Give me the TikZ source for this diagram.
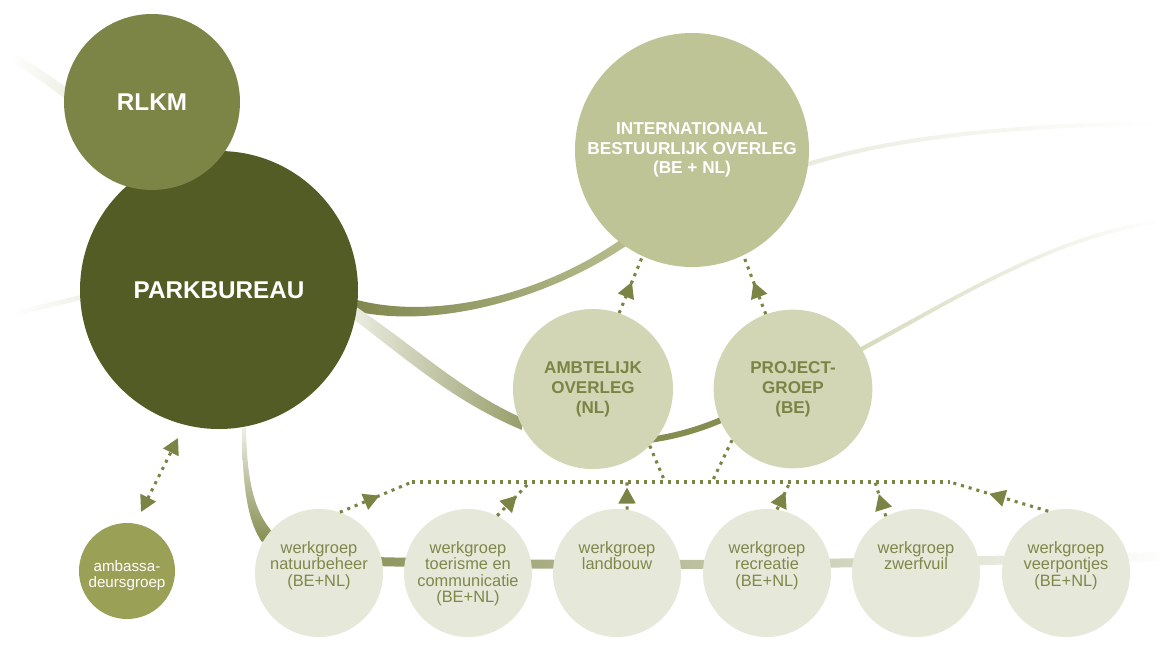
\documentclass[tikz,border=0pt]{standalone}
\usepackage{fontspec}
\setmainfont{Liberation Sans}
\usetikzlibrary{arrows.meta,decorations.markings}
\definecolor{cRl}{HTML}{7C8446}
\definecolor{cPark}{HTML}{545C25}
\definecolor{cInt}{HTML}{BFC497}
\definecolor{cAmb}{HTML}{D2D6B4}
\definecolor{cWg}{HTML}{E6E8D9}
\definecolor{cAms}{HTML}{9BA057}
\definecolor{cText}{HTML}{7B8445}
\definecolor{cWgText}{HTML}{7F8749}
\definecolor{cRib}{HTML}{868D51}
\begin{document}
\begin{tikzpicture}[x=0.75pt,y=-0.75pt,
  circ/.style={circle,inner sep=0pt,align=center},
  bigcap/.style={font=\bfseries\fontsize{18.2}{20}\selectfont,text=white},
  midcap/.style={font=\bfseries\fontsize{12.8}{15}\selectfont,text=cText},
  intcap/.style={font=\bfseries\fontsize{12.9}{14.6}\selectfont,text=white},
  wg/.style={circ,fill=cWg,minimum size=96pt},
  wgtext/.style={anchor=north,inner sep=0pt,align=center,text=cWgText,font=\fontsize{12.3}{12.4}\selectfont},
  dots/.style={draw=cText,line width=2.3pt,dash pattern=on 2.3pt off 3.7pt},
  midarrow/.style={postaction={decorate},decoration={markings,mark=at position #1 with {\arrow[cText,fill=cText,solid]{Triangle[length=12pt,width=12.5pt]}}}},
]
\useasboundingbox (0,0) rectangle (1160,650);
\fill[white] (0,0) rectangle (1160,650);

% background ribbons
\path[left color=white,right color=cWg!70!white]
  (10,52) .. controls (30,62) and (50,76) .. (70,90) -- (70,102) .. controls (50,88) and (30,72) .. (10,62) -- cycle;
\path[left color=white,right color=cWg!60!white]
  (10,312) .. controls (35,306) and (60,300) .. (85,294) -- (85,299) .. controls (60,305) and (35,311) .. (10,317) -- cycle;
\path[left color=cRib!95!black,right color=cInt!85!cRib]
  (350,298) .. controls (430,322) and (540,296) .. (620,240) -- (626,246) .. controls (542,302) and (430,330) .. (350,310) -- cycle;
\path[left color=cWg!80!white,right color=cRib!85!white]
  (352,304) .. controls (420,350) and (460,390) .. (522,418) -- (522,430) .. controls (455,402) and (410,362) .. (352,318) -- cycle;
\draw[cRib,line width=4.5pt] (640,441) .. controls (670,438) and (700,430) .. (730,416);
\path[left color=cAmb!80!cWg,right color=white]
  (855,350) .. controls (950,300) and (1050,235) .. (1160,219) -- (1160,223) .. controls (1050,239) and (950,304) .. (857,354) -- cycle;
\path[left color=cWg!85!white,right color=white]
  (804,163) .. controls (880,140) and (980,124) .. (1160,121) -- (1160,125) .. controls (980,128) and (880,144) .. (806,167) -- cycle;
\path[top color=cWg!70!white,bottom color=cRib]
  (242,428) .. controls (242,495) and (250,525) .. (262,542) -- (274,534) .. controls (257,515) and (247,490) .. (246,428) -- cycle;
\path[left color=cRib,middle color=cInt!80!cRib,right color=white!95!cWg]
  (300,555) .. controls (560,563) and (800,561) .. (1160,552) -- (1160,561) .. controls (800,570) and (560,572) .. (300,564) -- cycle;

% circles
\node[circ,fill=cPark,minimum size=208.5pt,bigcap] (park) at (219,290) {PARKBUREAU};
\node[circ,fill=cRl,minimum size=132pt,bigcap] (rlkm) at (152,102) {RLKM};
\node[circ,fill=cInt,minimum size=175.5pt,intcap] (int) at (692,150) {INTERNATIONAAL\\BESTUURLIJK OVERLEG\\(BE + NL)};
\node[circ,fill=cAmb,minimum size=120pt,midcap] (amb) at (593,389) {AMBTELIJK\\OVERLEG\\(NL)};
\node[circ,fill=cAmb,minimum size=119pt,midcap] (proj) at (793,389) {PROJECT-\\GROEP\\(BE)};
\node[circ,fill=cAms,minimum size=72pt,text=white,font=\fontsize{11.4}{12}\selectfont] (ambas) at (127,571) {\raisebox{-6pt}[0pt][0pt]{\parbox{60pt}{\centering ambassa-\\deursgroep}}};

\node[wg] (w1) at (319,573) {};
\node[wg] (w2) at (468,573) {};
\node[wg] (w3) at (617,573) {};
\node[wg] (w4) at (767,573) {};
\node[wg] (w5) at (916,573) {};
\node[wg] (w6) at (1066,573) {};
\node[wgtext] (w1t) at (319,541) {werkgroep\\natuurbeheer\\(BE+NL)};
\node[wgtext] (w2t) at (468,541) {werkgroep\\toerisme en\\communicatie\\(BE+NL)};
\node[wgtext] (w3t) at (617,541) {werkgroep\\landbouw};
\node[wgtext] (w4t) at (767,541) {werkgroep\\recreatie\\(BE+NL)};
\node[wgtext] (w5t) at (916,541) {werkgroep\\zwerfvuil};
\node[wgtext] (w6t) at (1066,541) {werkgroep\\veerpontjes\\(BE+NL)};

% coordinates for connector ends
\coordinate (pk1) at (178,438);
\coordinate (am1) at (141,512);
\coordinate (busL) at (412,482);
\coordinate (busR) at (950,482);
\coordinate (bA) at (665,482);
\coordinate (bP) at (712,482);
\coordinate (b2) at (530,482);
\coordinate (b3) at (627,482);
\coordinate (b4) at (790,482);
\coordinate (b5) at (875,482);

% dotted connectors
\draw[dots,{Triangle[length=12pt,width=12.5pt]}-{Triangle[length=12pt,width=12.5pt]}] (am1) -- (pk1);
\draw[dots,midarrow=0.55] (amb.71) -- (int.245);
\draw[dots,midarrow=0.55] (proj.110) -- (int.296);
\draw[dots] (amb.315) -- (bA);
\draw[dots] (proj.220) -- (bP);
\draw[dots] (busL) -- (busR);
\draw[dots,midarrow=0.55] (w1.71) -- (busL);
\draw[dots,midarrow=0.6] (w2.63) -- (b2);
\draw[dots,midarrow=0.8] (w3.81) -- (b3);
\draw[dots,midarrow=0.65] (w4.81) -- (b4);
\draw[dots,midarrow=0.65] (w5.118) -- (b5);
\draw[dots,midarrow=0.6] (w6.106) -- (busR);
\end{tikzpicture}
\end{document}
